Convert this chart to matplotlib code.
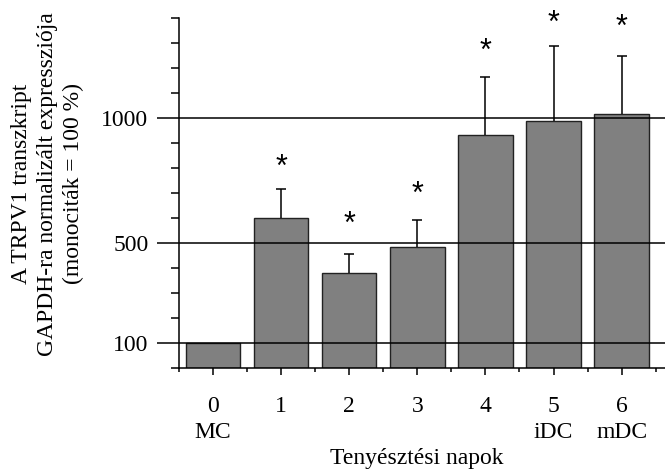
import matplotlib.pyplot as plt
import numpy as np

# adatok
days = [0, 1, 2, 3, 4, 5, 6]
day_labels = ["0\nMC", "1", "2", "3", "4", "5\niDC", "6\nmDC"]
expr = [100, 602, 382, 484, 933, 990, 1018]
err_up = [0, 114, 76, 108, 232, 300, 232]
star_y = [None, 817, 589, 709, 1280, 1393, 1376]
ref_lines = [100, 500, 1000]

plt.rcParams["font.family"] = ["Liberation Serif", "DejaVu Serif"]

fig = plt.figure(figsize=(6.65, 4.71), dpi=100)
ax = fig.add_axes([0.2692, 0.218, 0.7308, 0.743])

ax.bar(days, expr, width=0.8, color="#808080", edgecolor="#222222", linewidth=1.0, zorder=2)
eb = ax.errorbar(days[1:], expr[1:], yerr=[np.zeros(6), err_up[1:]], fmt="none",
                 ecolor="black", elinewidth=1.1, capsize=3.5, capthick=1.1, zorder=3)
eb[1][0].set_visible(False)  # no lower caps

for y in ref_lines:
    ax.axhline(y, color="black", linewidth=1.1, zorder=4)

for x, y in zip(days, star_y):
    if y is not None:
        ax.text(x, y - 15, "*", ha="center", va="center", fontsize=22,
                family="Liberation Sans", clip_on=False)

ax.set_xlim(-0.5, 6.637)
ax.set_ylim(0, 1400)

ax.spines["top"].set_visible(False)
ax.spines["right"].set_visible(False)
ax.spines["left"].set_linewidth(1.1)
ax.spines["bottom"].set_linewidth(1.1)

ax.set_yticks(ref_lines)
ax.set_yticklabels([str(v) for v in ref_lines])
ax.set_yticks(np.arange(0, 1401, 100), minor=True)
ax.tick_params(axis="y", which="major", length=16, width=1.1, labelsize=17, pad=6)
ax.tick_params(axis="y", which="minor", length=6, width=1.1)

ax.set_xticks(days)
ax.set_xticklabels(day_labels, fontsize=17, linespacing=1.3)
ax.set_xticks(np.arange(-0.5, 6.6, 1), minor=True)
ax.tick_params(axis="x", which="major", length=5, width=1.1, pad=15)
ax.tick_params(axis="x", which="minor", length=3, width=1.1)

fig.text(0.627, 0.027, "Tenyésztési napok", ha="center", va="center", fontsize=17)
fig.text(0.072, 0.61, "A TRPV1 transzkript\nGAPDH-ra normalizált expressziója\n(monociták = 100 %)",
         rotation=90, ha="center", va="center", fontsize=17, linespacing=1.3)

fig.savefig("out.png", dpi=100)
